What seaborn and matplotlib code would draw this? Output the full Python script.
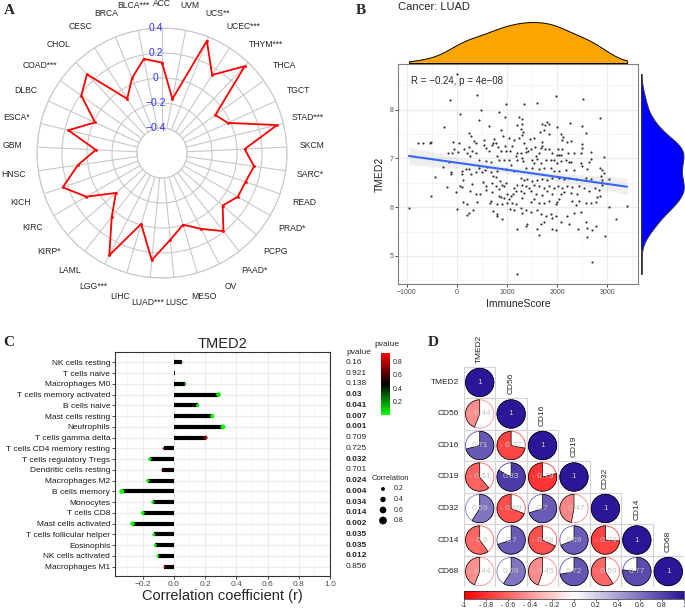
import numpy as np
import pandas as pd
import matplotlib
matplotlib.use("Agg")
import matplotlib.pyplot as plt
import matplotlib.colorbar as mcolorbar
import matplotlib.transforms as mtransforms
from matplotlib.colors import LinearSegmentedColormap, Normalize
from matplotlib.collections import PolyCollection
from matplotlib.patches import Wedge, Circle, Rectangle
from matplotlib.ticker import MultipleLocator
import seaborn as sns

sns.set_style("white")
plt.rcParams["font.family"] = ["Liberation Sans", "DejaVu Sans"]

# ---------------- A: pan-cancer radar ----------------
cancer_labels = ["ACC", "BLCA***", "BRCA", "CESC", "CHOL", "COAD***", "DLBC", "ESCA*",
                 "GBM", "HNSC", "KICH", "KIRC", "KIRP*", "LAML", "LGG***", "LIHC",
                 "LUAD***", "LUSC", "MESO", "OV", "PAAD*", "PCPG", "PRAD*", "READ",
                 "SARC*", "SKCM", "STAD***", "TGCT", "THCA", "THYM***", "UCEC***",
                 "UCS**", "UVM"]
cancer_cor = [0.123, 0.167, 0.045, -0.085, 0.27, 0.192, -0.011, 0.171,
              -0.07, 0.08, 0.24, 0.099, -0.112, 0.05, 0.32, -0.008,
              0.26, 0.098, -0.002, 0.083, 0.195, 0.042, 0.10, 0.107,
              0.144, 0.062, 0.347, -0.02, -0.076, 0.36, 0.142,
              0.366, -0.16]
radar_ticks = [-0.4, -0.2, 0, 0.2, 0.4]
radar_tick_labels = ["\u22120.4", "\u22120.2", "0", "0.2", "0.4"]

# ---------------- B: LUAD scatter (ImmuneScore, TMED2) ----------------
scatter_points = [
    (-7, 8.73), (-140, 8.19), (393, 8.29), (53, 7.90), (973, 8.12), (-260, 7.65), (440, 7.78),
    (473, 7.99), (840, 7.95), (960, 7.85), (640, 7.66), (873, 7.59), (240, 7.53), (273, 7.46),
    (340, 7.36), (373, 7.31), (540, 7.38), (740, 7.39), (773, 7.32), (920, 7.46), (1040, 7.41),
    (1140, 7.38), (1207, 7.68), (-773, 7.32), (-680, 7.32), (-547, 7.32), (-513, 7.34), (-73, 7.34),
    (40, 7.31), (-60, 7.19), (-173, 7.11), (-93, 7.12), (27, 7.14), (140, 7.19), (207, 7.12),
    (240, 7.24), (293, 7.16), (260, 7.05), (387, 7.11), (540, 7.28), (587, 7.21), (640, 7.16),
    (707, 7.28), (727, 7.32), (813, 7.24), (807, 7.05), (873, 7.16), (960, 7.25), (987, 7.15),
    (1053, 7.16), (1107, 7.25), (1173, 7.05), (1207, 7.11), (840, 6.97), (940, 6.96), (1040, 6.97),
    (1207, 6.97), (440, 6.97), (573, 6.94), (673, 6.92), (-160, 6.92), (-273, 6.83), (173, 6.78),
    (240, 6.78), (440, 6.80), (560, 6.77), (507, 6.73), (607, 6.82), (1087, 6.87), (1140, 6.75),
    (107, 6.75), (-127, 6.73), (373, 6.73), (673, 6.73), (807, 6.75), (973, 6.78),
    (1983, 8.28), (2520, 8.21), (1340, 8.11), (1591, 8.14), (2864, 7.83), (1240, 7.85), (1293, 7.80),
    (1306, 7.70), (1273, 7.61), (1320, 7.55), (1293, 7.48), (1240, 7.41), (1704, 7.70), (1757, 7.68),
    (1804, 7.75), (1837, 7.70), (2002, 7.65), (2248, 7.72), (2486, 7.67), (2566, 7.53), (1658, 7.55),
    (1737, 7.58), (1837, 7.49), (2082, 7.50), (2122, 7.44), (2102, 7.38), (2201, 7.33), (2268, 7.36),
    (1538, 7.41), (1452, 7.39), (1340, 7.31), (1373, 7.21), (1426, 7.16), (1386, 7.14), (1472, 7.19),
    (1558, 7.24), (1691, 7.34), (1704, 7.25), (1671, 7.21), (1757, 7.19), (1837, 7.19), (1903, 7.11),
    (2022, 7.19), (2089, 7.19), (1989, 7.07), (2036, 7.07), (2082, 7.07), (2215, 7.11), (2334, 7.11),
    (2467, 7.12), (2486, 7.21), (2486, 7.30), (2665, 7.13), (2665, 6.99), (2931, 7.02), (1273, 7.11),
    (1306, 7.00), (1320, 6.94), (1492, 6.97), (1571, 7.04), (1605, 6.98), (1638, 7.11), (1538, 6.90),
    (1671, 6.90), (1770, 6.97), (1870, 6.97), (1936, 6.96), (2000, 6.90), (2069, 6.94), (2168, 6.97),
    (2235, 6.92), (2268, 6.92), (2467, 6.90), (2486, 6.85), (2632, 6.92), (2864, 6.81), (2898, 6.77),
    (2931, 6.71), (1373, 6.80), (1505, 6.80), (1638, 6.78), (1737, 6.80), (1870, 6.80), (1936, 6.75),
    (2036, 6.75), (2168, 6.77), (2334, 6.77), (2599, 6.78), (2871, 6.64), (2900, 6.45),
    (-440, 6.62), (-127, 6.69), (107, 6.67), (273, 6.69), (127, 6.56), (-193, 6.41), (60, 6.43),
    (107, 6.41), (307, 6.48), (253, 6.34), (-27, 6.31), (527, 6.52), (573, 6.44), (707, 6.50),
    (720, 6.64), (773, 6.62), (853, 6.53), (907, 6.46), (940, 6.43), (973, 6.50), (773, 6.43),
    (840, 6.37), (587, 6.36), (387, 6.26), (453, 6.26), (693, 6.31), (840, 6.23), (873, 6.21),
    (940, 6.19), (1007, 6.26), (1040, 6.17), (1073, 6.23), (1120, 6.26), (1173, 6.33), (1140, 6.39),
    (1207, 6.46), (-527, 6.23), (-960, 5.99), (120, 6.10), (193, 6.06), (407, 6.10), (653, 6.09),
    (673, 6.12), (807, 6.06), (907, 6.06), (1007, 6.08), (1107, 6.09), (1173, 6.06), (7, 5.97),
    (320, 5.94), (240, 5.89), (207, 5.83), (727, 5.93), (793, 5.87), (807, 5.82), (907, 5.75),
    (1060, 5.97), (1140, 5.94), (1207, 5.55), (1207, 4.63),
    (1273, 6.60), (1340, 6.56), (1406, 6.58), (1505, 6.53), (1605, 6.55), (1704, 6.58), (1804, 6.56),
    (1903, 6.60), (2036, 6.60), (2135, 6.58), (2235, 6.60), (2367, 6.58), (2566, 6.60), (2665, 6.58),
    (2898, 6.55), (3030, 6.58), (1293, 6.46), (1373, 6.43), (1439, 6.39), (1538, 6.46), (1638, 6.43),
    (1737, 6.39), (1837, 6.44), (1936, 6.39), (2022, 6.43), (2102, 6.39), (2201, 6.43), (2301, 6.41),
    (2433, 6.43), (2533, 6.39), (2752, 6.39), (2831, 6.36), (1273, 6.33), (1340, 6.29), (1472, 6.33),
    (1572, 6.26), (1704, 6.24), (1804, 6.33), (1903, 6.28), (2069, 6.26), (2135, 6.31), (2268, 6.29),
    (2400, 6.28), (2632, 6.33), (2798, 6.21), (2864, 6.23), (1306, 6.19), (1472, 6.10), (1538, 6.16),
    (1638, 6.09), (1737, 6.08), (1837, 6.12), (1969, 6.06), (2002, 6.10), (2036, 6.16), (2301, 6.12),
    (2367, 6.04), (2433, 6.12), (2566, 6.09), (2665, 6.09), (2765, 6.10), (3030, 6.01), (3395, 6.03),
    (1273, 5.99), (1306, 5.89), (1373, 5.95), (1472, 5.90), (1605, 5.94), (1671, 5.85), (1770, 5.82),
    (1870, 5.85), (1903, 5.78), (1969, 5.82), (2069, 5.70), (2201, 5.82), (2235, 5.65), (2334, 5.89),
    (2467, 5.90), (2566, 5.70), (2599, 5.58), (2765, 5.61), (2685, 5.53), (2951, 5.41), (3183, 5.75),
    (1373, 5.61), (1406, 5.65), (1605, 5.55), (1638, 5.43), (1671, 5.65), (1737, 5.70), (1903, 5.56),
    (1969, 5.53), (2420, 5.56), (2599, 5.38), (2699, 4.87),
]
cor_text = "R = \u22120.24, p = 4e\u221208"
b_xticks = [-1000, 0, 1000, 2000, 3000]
b_xticklabels = ["\u22121000", "0", "1000", "2000", "3000"]
b_yticks = [5, 6, 7, 8]

# ---------------- C: immune cell correlation ----------------
cell_types = ["NK cells resting", "T cells naive", "Macrophages M0", "T cells memory activated",
              "B cells naive", "Mast cells resting", "Neutrophils", "T cells gamma delta",
              "T cells CD4 memory resting", "T cells regulatory Tregs", "Dendritic cells resting",
              "Macrophages M2", "B cells memory", "Monocytes", "T cells CD8", "Mast cells activated",
              "T cells follicular helper", "Eosinophis", "NK cells activated", "Macrophages M1"]
cell_cor = [0.051, 0.005, 0.073, 0.286, 0.152, 0.246, 0.314, 0.203, -0.066, -0.154,
            -0.073, -0.167, -0.333, -0.135, -0.199, -0.265, -0.128, -0.118, -0.103, -0.06]
cell_p_labels = ["0.16", "0.921", "0.138", "0.03", "0.041", "0.007", "0.001", "0.709", "0.725",
                 "0.032", "0.701", "0.024", "0.004", "0.034", "0.014", "0.002", "0.035", "0.035",
                 "0.012", "0.856"]
c_xticks = [-0.2, 0.0, 0.2, 0.4, 0.6, 0.8, 1.0]
c_xticklabels = ["\u22120.2", "0.0", "0.2", "0.4", "0.6", "0.8", "1.0"]
p_ticks = [0.2, 0.4, 0.6, 0.8]
size_breaks = [0.2, 0.4, 0.6, 0.8]

# ---------------- D: marker correlation matrix ----------------
markers = ["TMED2", "CD56", "CD16", "CD19", "CD32", "CD14", "CD68"]
marker_corr = [
    [1],
    [-0.44, 1],
    [0.71, -0.72, 1],
    [-0.61, 0.83, -0.79, 1],
    [0.59, -0.69, 0.7, -0.47, 1],
    [-0.6, 0.7, -0.68, 0.69, -0.74, 1],
    [-0.44, 0.59, -0.45, 0.72, -0.59, 0.77, 1],
]
d_ticks = [-1, -0.8, -0.6, -0.4, -0.2, 0, 0.2, 0.4, 0.6, 0.8, 1]

# ---------------- figure ----------------
W, H = 685, 611
fig = plt.figure(figsize=(W / 100, H / 100), dpi=100)
fig.patch.set_facecolor("white")


def px_rect(l, t, r, b):
    return [l / W, 1 - b / H, (r - l) / W, (b - t) / H]


letter_kw = dict(family=["Liberation Serif", "DejaVu Serif"], fontweight="bold", fontsize=11,
                 ha="center", va="center")
fig.text(9 / W, 1 - 10 / H, "A", **letter_kw)
fig.text(361 / W, 1 - 10 / H, "B", **letter_kw)
fig.text(9 / W, 1 - 343 / H, "C", **letter_kw)
fig.text(433 / W, 1 - 343 / H, "D", **letter_kw)

# ----- A -----
n_c = len(cancer_labels)
theta = np.arange(n_c) * 2 * np.pi / n_c
axA = fig.add_axes(px_rect(37, 28, 287, 278), projection="polar")
axA.set_theta_zero_location("N")
axA.set_theta_direction(1)
sns.lineplot(x=np.append(theta, 2 * np.pi), y=np.append(cancer_cor, cancer_cor[0]), sort=False,
             ax=axA, color="red", lw=1.3, marker="o", markersize=2, markeredgewidth=0)
axA.set_ylim(-0.4, 0.4)
axA.set_rorigin(-0.6)
axA.set_xticks(theta)
axA.set_xticklabels([])
axA.set_yticks(radar_ticks)
axA.set_yticklabels([])
axA.tick_params(length=0)
axA.grid(True, color="#C8C8C8", lw=0.8)
axA.set_axisbelow(True)
for sp in axA.spines.values():
    sp.set_color("#C8C8C8")
    sp.set_linewidth(0.8)
axA.set_xlabel("")
axA.set_ylabel("")
for t, lab in zip(theta, cancer_labels):
    axA.text(t, 0.6, lab, ha="center", va="center", fontsize=6.2, clip_on=False)
for v, lab in zip(radar_ticks, radar_tick_labels):
    axA.annotate(lab, xy=(0, v), xytext=(-4.5, 0), textcoords="offset points",
                 ha="center", va="center", color="#3333FF", fontsize=7.5)

# ----- B -----
immune = np.array([p[0] for p in scatter_points], dtype=float)
tmed2 = np.array([p[1] for p in scatter_points], dtype=float)
xr = immune.max() - immune.min()
yr = tmed2.max() - tmed2.min()
b_xlim = (immune.min() - 0.05 * xr, immune.max() + 0.05 * xr)
b_ylim = (tmed2.min() - 0.05 * yr, tmed2.max() + 0.05 * yr)

axB = fig.add_axes(px_rect(398, 64, 638, 284))
sns.regplot(x=immune, y=tmed2, ax=axB, color="#3366FF", ci=95, seed=1, truncate=True,
            scatter_kws=dict(s=2.5, color="black", linewidths=0, zorder=3),
            line_kws=dict(lw=1.5, zorder=4))
for coll in axB.collections:
    if isinstance(coll, PolyCollection):
        coll.set_facecolor((0.6, 0.6, 0.6, 0.4))
        coll.set_zorder(2)
axB.set_xlim(b_xlim)
axB.set_ylim(b_ylim)
axB.set_xticks(b_xticks)
axB.set_xticklabels(b_xticklabels)
axB.set_yticks(b_yticks)
axB.xaxis.set_minor_locator(MultipleLocator(500))
axB.yaxis.set_minor_locator(MultipleLocator(0.5))
axB.grid(True, which="major", color="#EBEBEB", lw=0.8)
axB.grid(True, which="minor", color="#F2F2F2", lw=0.5)
axB.set_axisbelow(True)
axB.tick_params(which="major", length=2, width=0.6, color="#333333", labelsize=5,
                labelcolor="#4D4D4D", pad=1.5, bottom=True, left=True)
axB.tick_params(which="minor", length=0)
for sp in axB.spines.values():
    sp.set_color("#7F7F7F")
    sp.set_linewidth(0.8)
axB.set_xlabel("ImmuneScore", fontsize=7.5, labelpad=2)
axB.set_ylabel("TMED2", fontsize=7.5, labelpad=3)
axB.text(-915, 8.58, cor_text, va="center", ha="left", fontsize=7)
fig.text(398 / W, 1 - 7 / H, "Cancer: LUAD", fontsize=8, ha="left", va="center")

axBt = fig.add_axes(px_rect(398, 20, 638, 63))
sns.kdeplot(x=immune, ax=axBt, fill=True, color="#FFA500", alpha=1, edgecolor="black",
            linewidth=0.7, cut=0)
axBt.set_xlim(b_xlim)
axBt.set_ylim(0, None)
axBt.axis("off")

axBr = fig.add_axes(px_rect(641, 64, 685, 284))
sns.kdeplot(y=tmed2, ax=axBr, fill=True, color="#0000FF", alpha=1, edgecolor="#333333",
            linewidth=0.7, cut=0)
axBr.set_ylim(b_ylim)
axBr.set_xlim(0, axBr.get_xlim()[1] * 0.98)
axBr.axis("off")

# ----- C -----
p_vals = np.array([float(s) for s in cell_p_labels])
dfC = pd.DataFrame({"cell": cell_types, "r": cell_cor, "p": p_vals})
dfC["row"] = np.arange(len(dfC))
dfC["size"] = dfC["r"].abs()
p_cmap = LinearSegmentedColormap.from_list("pgrad", ["#00FF00", "#000000", "#FF0000"])
p_norm = Normalize(vmin=p_vals.min(), vmax=p_vals.max())

axC = fig.add_axes(px_rect(115, 352, 330, 576))
axC.hlines(dfC["row"], 0, dfC["r"], color="black", lw=3, zorder=2)
sns.scatterplot(data=dfC, x="r", y="row", hue="p", palette=p_cmap, hue_norm=p_norm,
                size="size", sizes=(0, 31.2), size_norm=(0, 0.8), legend=False,
                linewidth=0, ax=axC, zorder=3)
axC.set_xlim(-0.377, 1.0)
axC.set_ylim(len(dfC) - 1 + 0.86, -0.96)
axC.set_yticks(dfC["row"])
axC.set_yticklabels(cell_types)
axC.set_xticks(c_xticks)
axC.set_xticklabels(c_xticklabels)
axC.xaxis.set_minor_locator(MultipleLocator(0.1))
axC.grid(True, which="major", color="#EBEBEB", lw=0.8)
axC.grid(True, which="minor", axis="x", color="#F4F4F4", lw=0.5)
axC.set_axisbelow(True)
axC.tick_params(which="major", length=2, width=0.6, color="#333333", labelsize=6,
                labelcolor="#1A1A1A", pad=1.5, bottom=True, left=True)
axC.tick_params(which="minor", length=0)
axC.tick_params(axis="x", labelcolor="#4D4D4D")
for sp in axC.spines.values():
    sp.set_color("#333333")
    sp.set_linewidth(0.8)
axC.set_title("TMED2", fontsize=10.5, pad=3)
axC.set_xlabel("Correlation coefficient (r)", fontsize=10.5, labelpad=1)
axC.set_ylabel("")

trans = mtransforms.blended_transform_factory(fig.transFigure, axC.transData)
axC.text(346 / W, -0.95, "pvalue", transform=trans, fontsize=6, va="center", ha="left")
for row, lab, pv in zip(dfC["row"], cell_p_labels, p_vals):
    axC.text(346 / W, row, lab, transform=trans, fontsize=6, va="center", ha="left",
             fontweight="bold" if pv < 0.05 else "normal")

cax = fig.add_axes(px_rect(381, 353, 390, 415))
cb = mcolorbar.ColorbarBase(cax, cmap=p_cmap, norm=p_norm, orientation="vertical")
cb.set_ticks(p_ticks)
cb.set_ticklabels([f"{t:.1f}" for t in p_ticks])
cb.outline.set_visible(False)
cax.tick_params(labelsize=5, length=2, width=0.5, color="white", direction="in", pad=2)
fig.text(387 / W, 1 - 344 / H, "pvalue", fontsize=6, ha="center", va="center")

# overlay for legend marks
axL = fig.add_axes([0, 0, 1, 1], facecolor="none")
axL.set_xlim(0, W)
axL.set_ylim(H, 0)
axL.axis("off")
axL.text(372, 478, "Correlation", fontsize=5.5, ha="left", va="center")
leg_y = [489, 499.5, 510, 520.5]
axL.scatter([383] * len(size_breaks), leg_y, s=[39 * b for b in size_breaks], color="black",
            linewidths=0)
for yy, b in zip(leg_y, size_breaks):
    axL.text(394, yy, f"{b:.1f}", fontsize=5, ha="left", va="center")

# ----- D -----
d_cmap = LinearSegmentedColormap.from_list("dgrad", ["#FF0000", "#FFFFFF", "#2A1696"])
d_norm = Normalize(-1, 1)
n_m = len(markers)
axD = fig.add_axes(px_rect(464, 366.7, 684, 587.3))
axD.set_xlim(0, n_m)
axD.set_ylim(0, n_m)
axD.axis("off")
for i, row_vals in enumerate(marker_corr):
    yb = n_m - 1 - i
    for j, v in enumerate(row_vals):
        col = d_cmap(d_norm(v))
        cx, cy = j + 0.5, yb + 0.5
        axD.add_patch(Rectangle((j, yb), 1, 1, fill=False, ec="#D3D3D3", lw=0.8))
        axD.add_patch(Circle((cx, cy), 0.45, fc="white", ec=col, lw=0.6))
        if v >= 0:
            w = Wedge((cx, cy), 0.45, 90 - 360 * v, 90, fc=col, ec="black", lw=0.5)
        else:
            w = Wedge((cx, cy), 0.45, 90, 90 - 360 * v, fc=col, ec="black", lw=0.5)
        axD.add_patch(w)
        txt = "1" if v == 1 else (f"- {abs(v):g}" if v < 0 else f"{v:g}")
        axD.text(cx, cy, txt, ha="center", va="center", fontsize=6, color="#C4C4C4")
    axD.text(-0.15, yb + 0.5, markers[i], ha="right", va="center", fontsize=6)
    axD.text(i + 0.5, n_m - i + 0.12, markers[i], ha="center", va="bottom", rotation=90,
             fontsize=6)

dcax = fig.add_axes(px_rect(464, 591, 684, 599))
dcb = mcolorbar.ColorbarBase(dcax, cmap=d_cmap, norm=d_norm, orientation="horizontal")
dcb.set_ticks(d_ticks)
dcb.set_ticklabels([("- " + f"{abs(t):g}" if t < 0 and t != -1 else f"{t:g}") for t in d_ticks])
dcb.outline.set_linewidth(0.5)
dcax.tick_params(labelsize=5, length=1.5, width=0.5, pad=1)

fig.savefig("out.png", dpi=100)
